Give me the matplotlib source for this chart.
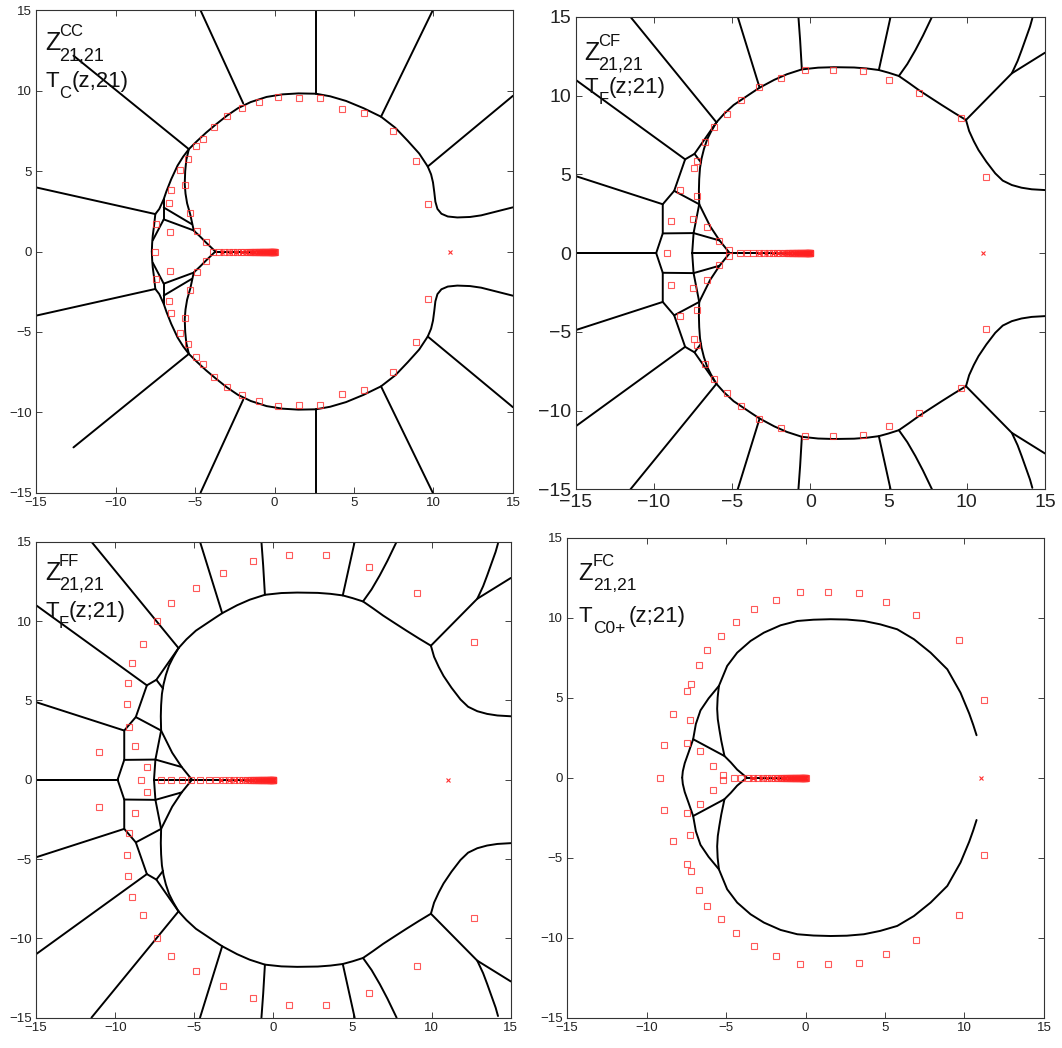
import matplotlib
matplotlib.use("Agg")
import matplotlib.pyplot as plt
import numpy as np

plt.rcParams['font.family'] = ['Liberation Sans', 'DejaVu Sans']

# ---- data (upper half only, the pictures are symmetric about y=0) ----

# zeros of the numerators, upper half plane
cc_zeros_x = [0.24, 1.54, 2.89, 4.26, 5.64, 7.43, 8.91, 9.64, -0.96, -2.03, -2.97, -3.82,
              -4.51, -4.97, -5.45, -5.95, -5.65, -6.5, -6.63, -5.33, -7.45, -6.55, -4.85, -4.32]
cc_zeros_y = [9.59, 9.55, 9.53, 8.86, 8.59, 7.49, 5.61, 2.93, 9.30, 8.93, 8.45, 7.78,
              6.98, 6.58, 5.74, 5.07, 4.14, 3.82, 3.05, 2.38, 1.74, 1.19, 1.28, 0.61]
cc_real = [-7.55, -3.85, -3.5, -3.17, -2.87, -2.6, -2.35, -2.12, -1.9, -1.7, -1.52, -1.35,
           -1.2, -1.06, -0.93, -0.81, -0.7, -0.6, -0.51, -0.43, -0.36, -0.29, -0.23, -0.18,
           -0.14, -0.1, -0.07, -0.04, -0.02, 0.0]

cf_zeros_x = [-0.32, 1.44, 3.35, 5.05, 6.97, 9.63, 11.25, -1.85, -3.25, -4.40, -5.34, -6.18,
              -6.70, -7.22, -7.44, -8.32, -7.24, -8.93, -7.48, -6.63, -5.85, -5.17]
cf_zeros_y = [11.62, 11.63, 11.56, 11.0, 10.18, 8.58, 4.82, 11.13, 10.52, 9.70, 8.86, 8.0,
              7.05, 5.86, 5.43, 3.99, 3.60, 2.02, 2.19, 1.68, 0.75, 0.17]
cf_real = [-9.16, -4.5, -4.05, -3.65, -3.3, -2.97, -2.67, -2.4, -2.15, -1.92, -1.71, -1.52,
           -1.34, -1.18, -1.03, -0.9, -0.78, -0.67, -0.57, -0.48, -0.4, -0.33, -0.26, -0.2,
           -0.15, -0.11, -0.07, -0.04, -0.02, 0.0]

ff_zeros_x = [0.97, 3.35, 6.03, 9.09, 12.68, -1.29, -3.21, -4.89, -6.46, -7.36, -8.27, -8.95,
              -9.20, -9.26, -9.15, -8.75, -11.05, -8.0]
ff_zeros_y = [14.20, 14.20, 13.43, 11.75, 8.71, 13.78, 13.01, 12.06, 11.14, 9.99, 8.54, 7.38,
              6.10, 4.76, 3.35, 2.12, 1.72, 0.8]
ff_real = [-8.35, -7.1, -6.45, -5.8, -5.2, -4.62, -4.1, -3.62, -3.2, -2.82, -2.48, -2.18,
           -1.92, -1.68, -1.47, -1.28, -1.11, -0.96, -0.82, -0.7, -0.59, -0.49, -0.4, -0.32,
           -0.25, -0.19, -0.14, -0.1, -0.06, -0.03, -0.01, 0.0]

# the packed part of the real-axis cluster, same in every panel
bar_x = [-1.45, -1.3, -1.2, -1.1, -1.0, -0.92, -0.85, -0.78, -0.71, -0.65, -0.58, -0.52,
         -0.46, -0.4, -0.35, -0.3, -0.25, -0.21, -0.17, -0.13, -0.09, -0.06, -0.03, -0.01]

# poles: the one at z=11 and the cluster on the negative real axis
pole_x = [11.05]
pole_cluster = [-3.3, -2.8, -2.4, -2.05, -1.75, -1.5, -1.27, -1.07, -0.9, -0.74, -0.6,
                -0.48, -0.37, -0.28, -0.2, -0.13, -0.08, -0.04, -0.01]

# curves of T_C(z;21), panel CC
cc_lines = [
    [(-5.39, 6.37), (-4.9, 6.85), (-4.3, 7.4), (-3.7, 7.9), (-3.0, 8.45), (-2.3, 8.92),
     (-1.5, 9.3), (-0.5, 9.62), (0.5, 9.78), (1.5, 9.84), (2.6, 9.82), (3.5, 9.66),
     (4.5, 9.37), (5.6, 8.92), (6.7, 8.39), (7.6, 7.7), (8.38, 6.89), (9.1, 6.1),
     (9.64, 5.29), (9.85, 4.8), (9.97, 4.3), (10.05, 3.7), (10.12, 3.1), (10.25, 2.65),
     (10.5, 2.35), (10.9, 2.18), (11.5, 2.12), (12.3, 2.15), (13.0, 2.25), (14.0, 2.5),
     (15, 2.75)],
    [(-5.39, 6.37), (-5.75, 5.9), (-6.1, 5.35), (-6.5, 4.5), (-6.8, 3.75), (-6.97, 3.26),
     (-7.25, 2.65), (-7.5, 2.33), (-7.58, 1.6), (-7.66, 1.0), (-7.7, 0.5), (-7.72, 0.0)],
    [(-5.39, 6.37), (-5.55, 5.7), (-5.62, 5.0), (-5.65, 4.2), (-5.6, 3.6), (-5.5, 3.0),
     (-5.3, 2.3), (-5.08, 1.3), (-4.7, 0.95), (-4.3, 0.55), (-3.72, 0.0)],
    [(-6.97, 3.26), (-6.97, 2.0)],
    [(-6.97, 2.74), (-5.2, 1.7)],
    [(-6.97, 2.0), (-5.05, 1.3)],
    [(-6.97, 2.0), (-7.66, 0.7)],
    [(-15, 3.99), (-7.5, 2.33)],
    [(-12.65, 12.19), (-5.39, 6.37)],
    [(-4.65, 15), (-1.97, 9.22)],
    [(2.6, 15), (2.6, 9.82)],
    [(9.95, 15), (6.7, 8.39)],
    [(15, 9.69), (9.64, 5.29)],
    [(-3.72, 0.0), (-1.3, 0.0)],
]

# curves of T_F(z;21), panels CF and FF
tf_lines = [
    [(-6.0, 8.3), (-5.5, 8.85), (-4.9, 9.4), (-4.3, 9.8), (-3.7, 10.2), (-3.24, 10.5),
     (-2.3, 11.0), (-1.5, 11.35), (-0.54, 11.66), (0.5, 11.77), (1.5, 11.8), (2.8, 11.78),
     (3.6, 11.72), (4.38, 11.62), (5.0, 11.45), (5.66, 11.24), (6.3, 10.8), (6.93, 10.35),
     (7.7, 9.85), (8.4, 9.4), (9.2, 8.9), (9.95, 8.45)],
    [(9.95, 8.45), (10.15, 7.75), (10.45, 7.1), (10.75, 6.54), (11.25, 5.8), (11.82, 5.06),
     (12.3, 4.6), (12.88, 4.32), (13.5, 4.15), (14.15, 4.05), (15, 4.0)],
    [(9.95, 8.45), (12.88, 11.41), (15, 12.72)],
    [(12.88, 11.41), (13.25, 12.2), (13.51, 12.89), (13.8, 13.7), (14.04, 14.37), (14.19, 14.9)],
    [(-4.64, 15), (-3.24, 10.5)],
    [(-0.76, 15), (-0.65, 13.5), (-0.54, 11.66)],
    [(5.13, 15), (4.38, 11.62)],
    [(7.78, 15), (7.2, 13.8), (6.72, 12.89), (6.2, 12.0), (5.66, 11.24)],
    [(-11.5, 15), (-6.0, 8.3)],
    [(-15, 11.0), (-8.0, 5.95)],
    [(-15, 4.89), (-9.43, 3.1)],
    [(-15, 0.0), (-9.85, 0.0)],
    [(-6.0, 8.3), (-6.35, 7.7), (-6.6, 7.2), (-6.8, 6.6), (-6.95, 6.0), (-7.05, 5.4),
     (-7.1, 4.7), (-7.12, 4.0), (-7.1, 3.1)],
    [(-6.0, 8.3), (-7.4, 6.3), (-8.0, 5.95)],
    [(-7.4, 6.3), (-6.98, 5.75)],
    [(-8.0, 5.95), (-8.7, 3.95), (-9.43, 3.1), (-9.43, 1.25), (-9.85, 0.0)],
    [(-8.7, 3.95), (-7.1, 3.1)],
    [(-9.43, 1.25), (-7.46, 1.27)],
    [(-7.1, 3.1), (-7.46, 1.27), (-7.55, 0.0)],
    [(-7.1, 3.1), (-6.8, 2.5), (-6.4, 1.7), (-5.8, 0.8), (-5.15, 0.0)],
    [(-7.46, 1.27), (-5.8, 0.8)],
    [(-7.55, 0.0), (-1.5, 0.0)],
]

# curves of T_C0+(z;21), panel FC
fc_lines = [
    [(10.76, 2.65), (10.55, 3.3), (10.3, 4.0), (9.75, 5.31), (8.92, 6.77), (7.87, 7.81),
     (6.82, 8.65), (5.77, 9.27), (4.7, 9.58), (3.67, 9.79), (2.6, 9.88), (1.57, 9.9),
     (0.5, 9.87), (-0.52, 9.79), (-1.57, 9.52), (-2.62, 9.06), (-3.46, 8.54), (-4.3, 7.81),
     (-4.93, 6.98), (-5.45, 5.73)],
    [(-5.45, 5.73), (-6.1, 4.95), (-6.61, 4.2), (-6.9, 3.35), (-7.07, 2.4), (-7.35, 1.6),
     (-7.6, 0.9), (-7.72, 0.4), (-7.76, 0.0)],
    [(-5.45, 5.73), (-5.53, 5.0), (-5.56, 4.3), (-5.52, 3.65), (-5.42, 3.0), (-5.3, 2.3),
     (-5.1, 1.35), (-4.7, 0.95), (-4.3, 0.5), (-3.7, 0.0)],
    [(-7.07, 2.4), (-5.1, 1.35)],
    [(-3.7, 0.0), (-1.4, 0.0)],
]

# label pieces and where they sit (pixels from the axes top-left corner)
panels = [
    dict(rect=[0.034, 0.530, 0.449, 0.460], lines=cc_lines,
         zx=cc_zeros_x, zy=cc_zeros_y, real=cc_real, fs=9.5,
         sup='CC', tsub='C', rest='(z,21)',
         zx0=9, sx=23, zb=40, tb=77, rx=36, big=(18, 12, 13, 16, 12)),
    dict(rect=[0.542, 0.533, 0.442, 0.451], lines=tf_lines,
         zx=cf_zeros_x, zy=cf_zeros_y, real=cf_real, fs=14,
         sup='CF', tsub='F', rest='(z;21)',
         zx0=9, sx=23, zb=43, tb=76, rx=33, big=(18, 12, 13, 16, 12)),
    dict(rect=[0.034, 0.029, 0.447, 0.454], lines=tf_lines,
         zx=ff_zeros_x, zy=ff_zeros_y, real=ff_real, fs=9.5,
         sup='FF', tsub='F', rest='(z;21)',
         zx0=9, sx=23, zb=38, tb=75, rx=33, big=(18, 12, 13, 16, 12)),
    dict(rect=[0.534, 0.029, 0.449, 0.458], lines=fc_lines,
         zx=cf_zeros_x, zy=cf_zeros_y, real=cf_real, fs=9.5,
         sup='FC', tsub='C0+', rest='(z;21)',
         zx0=11, sx=26, zb=42, tb=84, rx=62, big=(17, 12, 12.5, 16, 12.5)),
]

fig = plt.figure(figsize=(10.62, 10.48), dpi=100)

for p in panels:
    ax = fig.add_axes(p['rect'])
    for seg in p['lines']:
        xs = np.array([q[0] for q in seg])
        ys = np.array([q[1] for q in seg])
        ax.plot(xs, ys, color='k', lw=1.4, solid_capstyle='round', solid_joinstyle='round', zorder=2)
        ax.plot(xs, -ys, color='k', lw=1.4, solid_capstyle='round', solid_joinstyle='round', zorder=2)

    zx = np.array(p['zx'])
    zy = np.array(p['zy'])
    sq = dict(ls='', marker='s', ms=3.8, mfc='none', mec='#ff3030', mew=0.8, alpha=0.8, zorder=3)
    ax.plot(zx, zy, **sq)
    ax.plot(zx, -zy, **sq)
    ax.plot(p['real'], np.zeros(len(p['real'])), **sq)
    ax.plot(bar_x, np.zeros(len(bar_x)), **sq)
    ax.plot(pole_cluster, np.zeros(len(pole_cluster)), ls='', marker='x', ms=3.5,
            color='#ff2020', mew=1.0, zorder=3)
    ax.plot(pole_x, [0], ls='', marker='x', ms=3.5, color='#ff3030', mew=0.8, zorder=3)

    ax.set_xlim(-15, 15)
    ax.set_ylim(-15, 15)
    ax.set_xticks([-15, -10, -5, 0, 5, 10, 15])
    ax.set_yticks([-15, -10, -5, 0, 5, 10, 15])
    ax.tick_params(direction='in', top=True, right=True, length=4, width=0.6,
                   labelsize=p['fs'], colors='#222222', pad=3)
    for s in ax.spines.values():
        s.set_linewidth(0.8)
        s.set_color('#333333')

    def put(s, dx, dy, size):
        ax.annotate(s, xy=(0, 1), xycoords='axes fraction', xytext=(dx, -dy),
                    textcoords='offset pixels', fontsize=size, ha='left', va='baseline',
                    color='#111111')

    zsz, supsz, subsz, tsz, tsubsz = p['big']
    put('Z', p['zx0'], p['zb'], zsz)
    put(p['sup'], p['sx'], p['zb'] - 14, supsz)
    put('21,21', p['sx'], p['zb'] + 10, subsz)
    put('T', p['zx0'], p['tb'], tsz)
    put(p['tsub'], p['sx'], p['tb'] + 11, tsubsz)
    put(p['rest'], p['rx'], p['tb'], tsz)

fig.savefig('out.png', dpi=100)
